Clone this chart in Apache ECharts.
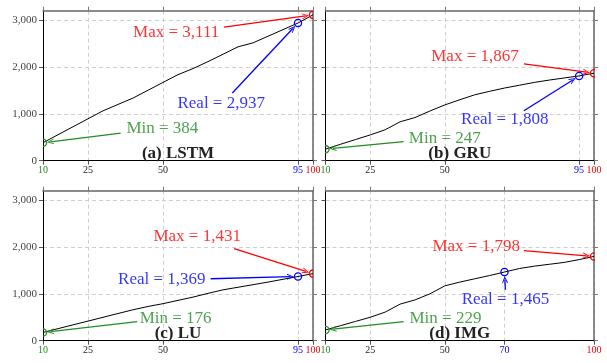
<!DOCTYPE html>
<html><head><meta charset="utf-8">
<script src="https://cdn.jsdelivr.net/npm/echarts@6/dist/echarts.min.js"></script>
<style>html,body{margin:0;padding:0;background:#fff}#c{width:607px;height:363px}</style>
</head><body><div id="c"></div>
<script>
// ---- data ----
const xValues = [10,15,20,25,30,35,40,45,50,55,60,65,70,75,80,85,90,95,100];
const lstm = [384,554,724,894,1064,1200,1336,1503,1670,1836,1965,2114,2271,2429,2514,2655,2796,2937,3111];
const gru  = [247,350,450,550,660,830,920,1060,1190,1300,1405,1480,1550,1610,1670,1720,1765,1808,1867];
const lu   = [176,257,338,418,499,580,660,730,790,860,930,1010,1085,1140,1195,1250,1310,1369,1431];
const img  = [229,320,410,500,610,780,870,1000,1170,1250,1320,1390,1465,1540,1590,1630,1670,1730,1798];
const titles = ['(a) LSTM','(b) GRU','(c) LU','(d) IMG'];
const realX = [95,95,95,70];
const xTickLabels = [[10,25,50,95,100],[10,25,50,95,100],[10,25,50,95,100],[10,25,50,70,100]];
const yTickLabels = [0,1000,2000,3000];
const yMax = 3200;

// ---- layout (positions only) ----
const GRIDS = [
  {left:43, top:10.7, width:270, height:150},
  {left:325.5, top:10.7, width:268.5, height:150},
  {left:43, top:190.7, width:270, height:150},
  {left:325.5, top:190.7, width:268.5, height:150}
];
const ANNOT = [
  {maxText:[54.4,2730], maxFrom:[70.3,2850], realText:[69.4,1215], realFrom:[73.1,1444], minText:[49.8,680], minFrom:[35.9,587]},
  {maxText:[60.1,2215], maxFrom:[76.5,2065], realText:[70.1,872], realFrom:[76.5,1065], minText:[50,480], minFrom:[36.2,407]},
  {maxText:[61.4,2228], maxFrom:[73.7,1965], realText:[49.6,1300], realFrom:[65.9,1322], minText:[54.2,480], minFrom:[41.4,407]},
  {maxText:[60.5,2015], maxFrom:[76.5,1922], realText:[70.3,872], realFrom:[70.3,1086], minText:[50.2,480], minFrom:[36.2,407]}
];
const RED = '#ff0000', BLUE = '#0000ff', GREEN = '#228B22';
const MARK_COLORS = [GREEN, BLUE, RED];
const SERIF = '"Liberation Serif", "DejaVu Serif", serif';
const ARROW = 'path://M0,10 L5,0 L10,10 L8.4,10 L5,3.2 L1.6,10 Z';

const allSeries = [lstm, gru, lu, img];
const fmt = v => v.toLocaleString('en-US');

const chart = echarts.init(document.getElementById('c'), null, {renderer:'canvas'});

function build(arrowEnds) {
  const grid = [], xAxis = [], yAxis = [], series = [], graphic = [];
  allSeries.forEach((vals, i) => {
    const g = GRIDS[i];
    grid.push(Object.assign({containLabel:false}, g));
    const ticks = xTickLabels[i];
    const tickColor = (v) => {
      const idx = ticks.indexOf(Number(v));
      if (idx === 0) return GREEN;
      if (idx === ticks.length - 1) return RED;
      if (idx === ticks.length - 2) return BLUE;
      return '#222';
    };
    xAxis.push({
      type:'value', gridIndex:i, min:10, max:100, position:'bottom',
      axisLine:{show:true, onZero:false, lineStyle:{color:'#000', width:1}},
      axisTick:{show:true, inside:false, length:4, customValues:ticks, lineStyle:{color:'#555'}},
      axisLabel:{show:true, customValues:ticks, margin:5, fontFamily:SERIF, fontSize:10, color:tickColor, formatter: v => String(v)},
      splitLine:{show:true, lineStyle:{color:'#cfcfcf', type:[4,3], width:1}}
    });
    xAxis.push({
      type:'value', gridIndex:i, min:10, max:100, position:'top',
      axisLine:{show:true, onZero:false, lineStyle:{color:'#666', width:1.5}},
      axisTick:{show:true, inside:false, length:4, customValues:ticks, lineStyle:{color:'#777'}},
      axisLabel:{show:false}, splitLine:{show:false}
    });
    yAxis.push({
      type:'value', gridIndex:i, min:0, max:yMax, position:'left',
      axisLine:{show:true, onZero:false, lineStyle:{color:'#000', width:1}},
      axisTick:{show:true, inside:false, length:4, customValues:yTickLabels, lineStyle:{color:'#555'}},
      axisLabel:{show: i % 2 === 0, customValues:yTickLabels, margin:6, fontFamily:SERIF, fontSize:11, color:'#444', formatter: v => fmt(v)},
      splitLine:{show:true, lineStyle:{color:'#cfcfcf', type:[4,3], width:1}}
    });
    yAxis.push({
      type:'value', gridIndex:i, min:0, max:yMax, position:'right',
      axisLine:{show:true, onZero:false, lineStyle:{color:'#666', width:1.5}},
      axisTick:{show:true, inside:false, length:4, customValues:yTickLabels, lineStyle:{color:'#777'}},
      axisLabel:{show:false}, splitLine:{show:false}
    });
    const xa = 2*i, ya = 2*i;
    // main line
    series.push({
      type:'line', xAxisIndex:xa, yAxisIndex:ya, data: xValues.map((x,k)=>[x, vals[k]]),
      showSymbol:false, symbol:'none', lineStyle:{color:'#000', width:1}, z:3, silent:true
    });
    const minV = vals[0], maxV = vals[vals.length-1];
    const rIdx = xValues.indexOf(realX[i]);
    const realV = vals[rIdx];
    const minPt = [xValues[0], minV], maxPt = [xValues[xValues.length-1], maxV], realPt = [realX[i], realV];
    // markers (clipped to the plot area, like the reference)
    series.push({
      type:'custom', xAxisIndex:xa, yAxisIndex:ya, z:5, silent:true, clip:true,
      data:[[minPt[0], minPt[1], 0], [realPt[0], realPt[1], 1], [maxPt[0], maxPt[1], 2]],
      renderItem: (params, api) => {
        const p = api.coord([api.value(0), api.value(1)]);
        return {type:'circle', shape:{cx:p[0], cy:p[1], r:3.6},
          style:{fill:'none', stroke:MARK_COLORS[api.value(2)], lineWidth:1.3}};
      }
    });
    const a = ANNOT[i];
    const ends = arrowEnds ? arrowEnds[i] : {max:maxPt, real:realPt, min:minPt};
    const lab = (c) => ({show:true, position:'inside', color:c, fontFamily:SERIF, fontSize:17});
    series.push({
      type:'scatter', xAxisIndex:xa, yAxisIndex:ya, symbolSize:0.01, z:6, silent:true, clip:false,
      data:[
        {value:a.maxText, label:Object.assign(lab(RED), {formatter:'Max = ' + fmt(maxV)})},
        {value:a.realText, label:Object.assign(lab(BLUE), {formatter:'Real = ' + fmt(realV)})},
        {value:a.minText, label:Object.assign(lab(GREEN), {formatter:'Min = ' + fmt(minV)})}
      ],
      markLine:{
        silent:true, animation:false, symbol:['none', ARROW], symbolSize:[6,7], precision:4,
        label:{show:false}, lineStyle:{type:'solid', width:1.3},
        data:[
          [{coord:a.maxFrom, lineStyle:{color:RED}, itemStyle:{color:RED}}, {coord:ends.max}],
          [{coord:a.realFrom, lineStyle:{color:BLUE}, itemStyle:{color:BLUE}}, {coord:ends.real}],
          [{coord:a.minFrom, lineStyle:{color:GREEN}, itemStyle:{color:GREEN}}, {coord:ends.min}]
        ]
      }
    });
    graphic.push({
      type:'text', x: g.left + g.width/2, y: g.top + g.height - 7.5, z:10, silent:true,
      style:{text:titles[i], fill:'#222', font:'bold 17px ' + SERIF, textAlign:'center', textVerticalAlign:'middle'}
    });
  });
  return {animation:false, backgroundColor:'#fff', grid, xAxis, yAxis, series, graphic};
}

chart.setOption(build(null));

// shorten arrows so that their tips stop at the marker circles
const arrowEnds = allSeries.map((vals, i) => {
  const a = ANNOT[i];
  const minPt = [xValues[0], vals[0]], maxPt = [xValues[xValues.length-1], vals[vals.length-1]];
  const realPt = [realX[i], vals[xValues.indexOf(realX[i])]];
  const shorten = (from, to) => {
    const p1 = chart.convertToPixel({gridIndex:i}, from);
    const p2 = chart.convertToPixel({gridIndex:i}, to);
    const dx = p2[0]-p1[0], dy = p2[1]-p1[1];
    const L = Math.hypot(dx, dy) || 1;
    const d = 7.5;
    return chart.convertFromPixel({gridIndex:i}, [p2[0]-dx/L*d, p2[1]-dy/L*d]);
  };
  return {max:shorten(a.maxFrom, maxPt), real:shorten(a.realFrom, realPt), min:shorten(a.minFrom, minPt)};
});
chart.setOption(build(arrowEnds));
</script></body></html>
